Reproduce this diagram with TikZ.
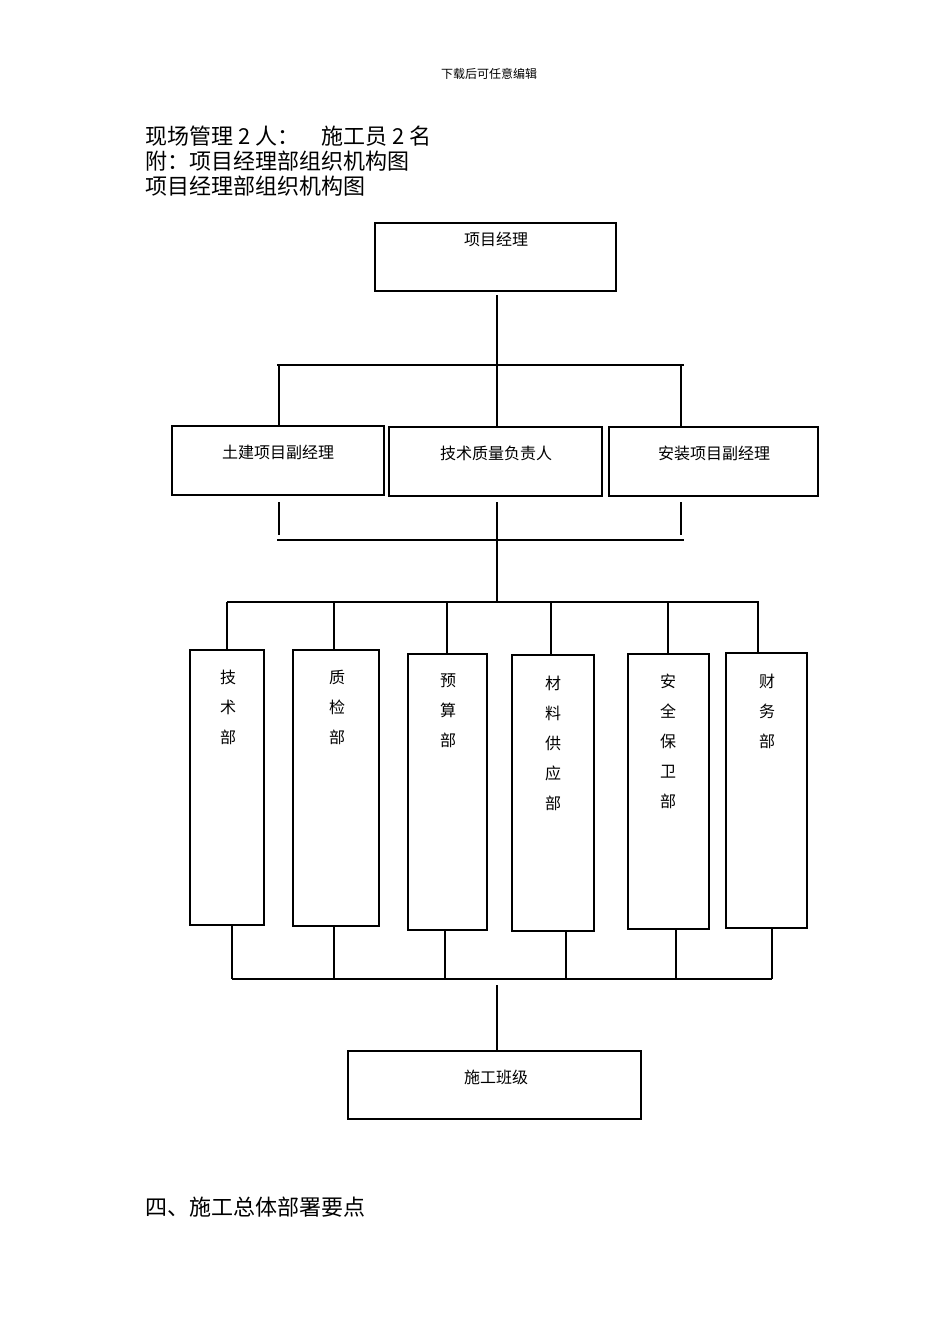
\documentclass[tikz,border=0pt]{standalone}
\usepackage{fontspec}
\setmainfont{Noto Sans CJK SC}
\usetikzlibrary{calc}
\begin{document}
\begin{tikzpicture}[x=1pt,y=-1pt,
  line width=1.2pt,
  box/.style={draw, line width=1.3pt, inner sep=0pt},
  boxtext/.style={font=\fontsize{16}{16}\selectfont, inner sep=0pt},
  vtext/.style={font=\fontsize{16}{30}\selectfont, align=center, inner sep=0pt},
  title/.style={font=\fontsize{22}{22}\selectfont, anchor=west, inner sep=0pt}]
\useasboundingbox[fill=white] (0,0) rectangle (950,1344);

% header and titles
\node[font=\fontsize{12}{12}\selectfont, inner sep=0pt] (hdr) at (489,74) {下载后可任意编辑};
\node[title] (t1) at (145,136) {现场管理 2 人：\hspace{22pt}施工员 2 名};
\node[title] (t2) at (145,161) {附：项目经理部组织机构图};
\node[title] (t3) at (145,186) {项目经理部组织机构图};
\node[title] (t4) at (145,1207) {四、施工总体部署要点};

% boxes
\node[box, minimum width=241pt, minimum height=68pt] (pm) at (495.5,257) {};
\node[boxtext] (pmt) at (496,239) {项目经理};
\node[box, minimum width=212pt, minimum height=69pt] (civ) at (278,460.5) {};
\node[boxtext] (civt) at (278,452) {土建项目副经理};
\node[box, minimum width=213pt, minimum height=69pt] (tech) at (495.5,461.5) {};
\node[boxtext] (techt) at (496,453) {技术质量负责人};
\node[box, minimum width=209pt, minimum height=69pt] (inst) at (713.5,461.5) {};
\node[boxtext] (instt) at (714,453) {安装项目副经理};

\node[box, minimum width=74pt, minimum height=275pt] (d1) at (227,787.5) {};
\node[box, minimum width=86pt, minimum height=276pt] (d2) at (336,788) {};
\node[box, minimum width=79pt, minimum height=276pt] (d3) at (447.5,792) {};
\node[box, minimum width=82pt, minimum height=276pt] (d4) at (553,793) {};
\node[box, minimum width=81pt, minimum height=275pt] (d5) at (668.5,791.5) {};
\node[box, minimum width=81pt, minimum height=275pt] (d6) at (766.5,790.5) {};
\node[vtext] (d1t) at (228,707) {技\\术\\部};
\node[vtext] (d2t) at (337,707) {质\\检\\部};
\node[vtext] (d3t) at (448,711) {预\\算\\部};
\node[vtext] (d4t) at (553,743) {材\\料\\供\\应\\部};
\node[vtext] (d5t) at (668,741) {安\\全\\保\\卫\\部};
\node[vtext] (d6t) at (767,711) {财\\务\\部};

\node[box, minimum width=293pt, minimum height=68pt] (team) at (494.5,1085) {};
\node[boxtext] (teamt) at (496,1077) {施工班级};

% connectors: top level
\coordinate (a0) at (497,295);
\coordinate (b1L) at (277,365);
\coordinate (b1R) at (684,365);
\coordinate (c1) at (279,365);
\coordinate (c3) at (681,365);
\draw (a0) -- (a0 |- tech.north);
\draw (b1L) -- (b1R);
\draw (c1) -- (c1 |- civ.north);
\draw (c3) -- (c3 |- inst.north);

% below middle boxes
\coordinate (e1) at (279,502);
\coordinate (e2) at (497,502);
\coordinate (e3) at (681,502);
\coordinate (b2L) at (277,540);
\coordinate (b2R) at (684,540);
\coordinate (b3L) at (227,602);
\coordinate (b3R) at (759,602);
\draw (e1) -- (279,535);
\draw (e3) -- (681,535);
\draw (e2) -- (497,602);
\draw (b2L) -- (b2R);
\draw (b3L) -- (b3R);

% drops to departments
\foreach \n/\x in {d1/227,d2/334,d3/447,d4/551,d5/668,d6/758}
  \draw (\x,602) -- (\x,0 |- \n.north);

% from departments down
\coordinate (b4L) at (232,979);
\coordinate (b4R) at (772,979);
\foreach \n/\x in {d1/232,d2/334,d3/445,d4/566,d5/676,d6/772}
  \draw (\x,0 |- \n.south) -- (\x,979);
\draw (b4L) -- (b4R);
\coordinate (f0) at (497,985);
\draw (f0) -- (f0 |- team.north);
\end{tikzpicture}
\end{document}
